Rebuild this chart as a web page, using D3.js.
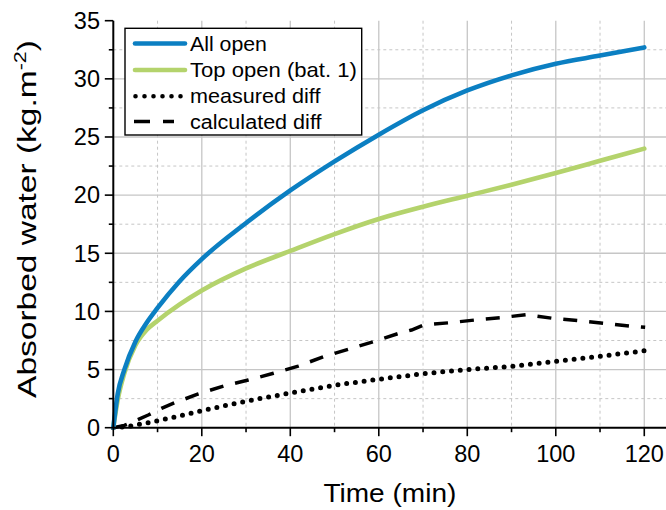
<!DOCTYPE html>
<html><head><meta charset="utf-8">
<script src="https://cdn.jsdelivr.net/npm/d3@7"></script>
<style>
html,body{margin:0;padding:0;background:#fff;}
text{font-family:"Liberation Sans",Arial,sans-serif;fill:#000;}
</style></head>
<body>
<svg id="chart" width="666" height="510"></svg>
<script>
// ---- data ----
const seriesNames = ["All open", "Top open (bat. 1)", "measured diff", "calculated diff"];
const timeMain = [0, 1, 2.5, 5, 7.5, 10, 15, 20, 30, 40, 50, 60, 70, 80, 90, 100, 110, 120];
const allOpen  = [0, 2.9, 5.0, 7.4, 9.0, 10.3, 12.6, 14.5, 17.6, 20.4, 22.9, 25.2, 27.3, 29.0, 30.3, 31.3, 32.0, 32.7];
const topOpen  = [0, 2.4, 4.7, 7.1, 8.4, 9.2, 10.6, 11.8, 13.7, 15.2, 16.65, 17.95, 19.0, 19.95, 20.9, 21.9, 22.95, 24.0];
const timeMeasured = [0, 3, 6, 10, 20, 30, 40, 50, 60, 70, 80, 90, 100, 110, 120];
const measuredDiff = [0, 0.1, 0.3, 0.6, 1.46, 2.27, 2.98, 3.64, 4.16, 4.63, 4.99, 5.28, 5.7, 6.14, 6.62];
const timeCalc = [0, 2.5, 5.3, 7.9, 10.9, 13.9, 19.2, 24.9, 30.5, 36.2, 41.8, 47.5, 53.1, 58.8, 64.4, 67.4, 70.1, 76.1, 81.7, 87.4, 93.4, 99.4, 105.1, 111.1, 116.8, 120.2];
const calcDiff = [0, 0.2, 0.66, 1.09, 1.67, 2.15, 2.9, 3.58, 4.1, 4.68, 5.3, 6.1, 6.74, 7.4, 8.1, 8.4, 8.83, 9.03, 9.26, 9.46, 9.72, 9.4, 9.2, 8.97, 8.74, 8.63];
const xTicks = [0, 20, 40, 60, 80, 100, 120];
const yTicks = [0, 5, 10, 15, 20, 25, 30, 35];

// ---- layout ----
const svg = d3.select("#chart");
const L = 113.3, R = 666.4, T = 20.7, B = 427.7;
const x = d3.scaleLinear().domain([0, 125]).range([L, R]);
const y = d3.scaleLinear().domain([0, 35]).range([B, T]);
const blue = "#0b7fc2", green = "#b4d36c";
const gridC = "#c6c6c6";

function fitWidth(sel, target) {
  const w = sel.node().getBBox().width;
  return target / w;
}

// grid
const g = svg.append("g");
const xMinor = d3.range(10, 125, 20), xMajor = d3.range(20, 125, 20);
const yMinor = d3.range(2.5, 35, 5), yMajor = d3.range(5, 35, 5);
g.selectAll(".vmaj").data(xMajor).join("line")
  .attr("x1", d => x(d)).attr("x2", d => x(d)).attr("y1", T).attr("y2", B)
  .attr("stroke", gridC).attr("stroke-width", 1.3);
g.selectAll(".vmin").data(xMinor).join("line")
  .attr("x1", d => x(d)).attr("x2", d => x(d)).attr("y1", T).attr("y2", B)
  .attr("stroke", gridC).attr("stroke-width", 1).attr("stroke-dasharray", "3,3");
g.selectAll(".hmaj").data(yMajor).join("line")
  .attr("x1", L).attr("x2", R).attr("y1", d => y(d)).attr("y2", d => y(d))
  .attr("stroke", gridC).attr("stroke-width", 1.3);
g.selectAll(".hmin").data(yMinor).join("line")
  .attr("x1", L).attr("x2", R).attr("y1", d => y(d)).attr("y2", d => y(d))
  .attr("stroke", gridC).attr("stroke-width", 1).attr("stroke-dasharray", "3,3");

// lines
const mk = (xs, ys) => xs.map((t, i) => [t, ys[i]]);
const lineSmooth = d3.line().x(d => x(d[0])).y(d => y(d[1])).curve(d3.curveMonotoneX);
const lineLin = d3.line().x(d => x(d[0])).y(d => y(d[1]));

svg.append("path").datum(mk(timeCalc, calcDiff)).attr("d", lineLin)
  .attr("fill", "none").attr("stroke", "#000").attr("stroke-width", 3.5)
  .attr("stroke-dasharray", "14,12");
svg.append("path").datum(mk(timeMeasured, measuredDiff)).attr("d", lineSmooth)
  .attr("fill", "none").attr("stroke", "#000").attr("stroke-width", 5)
  .attr("stroke-linecap", "round").attr("stroke-dasharray", "0,8.8");
svg.append("path").datum(mk(timeMain, topOpen)).attr("d", lineSmooth)
  .attr("fill", "none").attr("stroke", green).attr("stroke-width", 4.6)
  .attr("stroke-linecap", "round");
svg.append("path").datum(mk(timeMain, allOpen)).attr("d", lineSmooth)
  .attr("fill", "none").attr("stroke", blue).attr("stroke-width", 4.6)
  .attr("stroke-linecap", "round");

// axes
const ax = svg.append("g");
ax.append("line").attr("x1", L).attr("x2", R).attr("y1", B).attr("y2", B)
  .attr("stroke", "#000").attr("stroke-width", 2);
ax.append("line").attr("x1", L).attr("x2", L).attr("y1", T).attr("y2", B)
  .attr("stroke", "#000").attr("stroke-width", 2);
ax.selectAll(".xt").data(xTicks).join("line")
  .attr("x1", d => x(d)).attr("x2", d => x(d)).attr("y1", B).attr("y2", B + 8.5)
  .attr("stroke", "#000").attr("stroke-width", 1.6);
ax.selectAll(".xm").data(xMinor).join("line")
  .attr("x1", d => x(d)).attr("x2", d => x(d)).attr("y1", B).attr("y2", B + 4.5)
  .attr("stroke", "#000").attr("stroke-width", 1.6);
ax.selectAll(".yt").data(yTicks).join("line")
  .attr("x1", L - 8.5).attr("x2", L).attr("y1", d => y(d)).attr("y2", d => y(d))
  .attr("stroke", "#000").attr("stroke-width", 1.6);
ax.selectAll(".ym").data(yMinor).join("line")
  .attr("x1", L - 4.5).attr("x2", L).attr("y1", d => y(d)).attr("y2", d => y(d))
  .attr("stroke", "#000").attr("stroke-width", 1.6);
ax.selectAll(".xl").data(xTicks).join("text")
  .attr("x", d => x(d)).attr("y", 461.7).attr("text-anchor", "middle")
  .attr("font-size", 23.5).text(d => d);
ax.selectAll(".yl").data(yTicks).join("text")
  .attr("x", 100).attr("y", d => y(d) + 8.3).attr("text-anchor", "end")
  .attr("font-size", 23.5).text(d => d);

// titles
const xt = svg.append("text").attr("text-anchor", "middle")
  .attr("font-size", 25.5).text("Time (min)");
const kx = fitWidth(xt, 133);
xt.attr("transform", "translate(" + ((L + R) / 2) + ",501.5) scale(" + kx + ",1)");

const yt = svg.append("text").attr("text-anchor", "middle").attr("font-size", 26.5);
yt.append("tspan").text("Absorbed water (kg.m");
yt.append("tspan").attr("dy", -10).attr("font-size", 17).text("-2");
yt.append("tspan").attr("dy", 10).text(")");
const ky = fitWidth(yt, 358);
yt.attr("transform", "translate(35.5,219) rotate(-90) scale(" + ky + ",1)");

// legend
const lg = svg.append("g");
lg.append("rect").attr("x", 125).attr("y", 28.3).attr("width", 236.7).attr("height", 106.7)
  .attr("fill", "#fff").attr("stroke", "#000").attr("stroke-width", 1.4);
const rowsY = [43.5, 70, 96.2, 121.5];
const legendWidths = [77, 167, 131, 132];
const styles = [
  {stroke: blue, w: 4.6, dash: null, cap: "round", x1: 135, x2: 185},
  {stroke: green, w: 4.6, dash: null, cap: "round", x1: 135, x2: 185},
  {stroke: "#000", w: 4.6, dash: "0,9", cap: "round", x1: 135.5, x2: 182},
  {stroke: "#000", w: 3.5, dash: "16,13", cap: "butt", x1: 134, x2: 174}
];
seriesNames.forEach((name, i) => {
  const s = styles[i];
  const ln = lg.append("line").attr("x1", s.x1).attr("x2", s.x2)
    .attr("y1", rowsY[i]).attr("y2", rowsY[i])
    .attr("stroke", s.stroke).attr("stroke-width", s.w).attr("stroke-linecap", s.cap);
  if (s.dash) ln.attr("stroke-dasharray", s.dash);
  const t = lg.append("text").attr("font-size", 20).text(name);
  const k = fitWidth(t, legendWidths[i]);
  t.attr("transform", "translate(190," + (rowsY[i] + 7.2) + ") scale(" + k + ",1)");
});
</script>
</body></html>
